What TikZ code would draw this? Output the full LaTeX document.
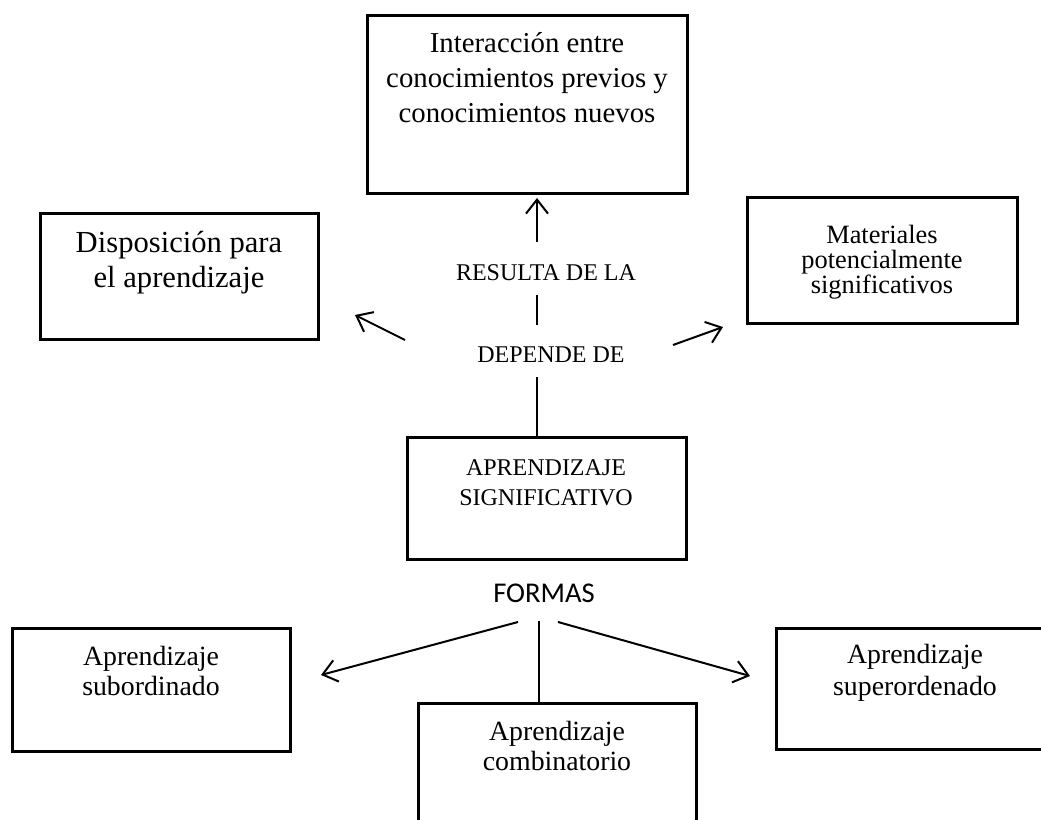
\documentclass[tikz,border=0pt]{standalone}
\usepackage{fontspec}
\setmainfont{Liberation Serif}
\newfontfamily\calibri{Carlito}
\usetikzlibrary{arrows.meta}

\begin{document}
\begin{tikzpicture}[x=0.5pt,y=-0.5pt,
	box/.style={draw,line width=1.5pt,anchor=north west,inner sep=0pt,outer sep=0pt},
	txt/.style={anchor=base,align=center,inner sep=0pt},
	lin/.style={line width=1pt},
	arr/.style={line width=1pt,-{Straight Barb[length=7pt,width=11pt]}}]
\clip (0,0) rectangle (1041,820);
% boxes
\node[box,minimum width=160pt,minimum height=89pt] (inter) at (367,15) {};
\node[box,minimum width=139pt,minimum height=63pt] (disp) at (40,213) {};
\node[box,minimum width=135pt,minimum height=63pt] (mat) at (747,197) {};
\node[box,minimum width=139.5pt,minimum height=61pt] (apr) at (407,437) {};
\node[box,minimum width=139pt,minimum height=61.5pt] (sub) at (12,628) {};
\node[box,minimum width=139pt,minimum height=70pt] (comb) at (418,703) {};
\node[box,minimum width=150pt,minimum height=60.5pt] (sup) at (776,628) {};
% texts (base = last line)
\node[txt,font=\fontsize{14.4}{17.5}\selectfont] (intert) at (527,122) {Interacción entre\\conocimientos previos y\\conocimientos nuevos};
\node[txt,font=\fontsize{15.3}{17.5}\selectfont] (dispt) at (179,287) {Disposición para\\el aprendizaje};
\node[txt,font=\fontsize{13.2}{12.5}\selectfont] (matt) at (882,293) {Materiales\\potencialmente\\significativos};
\node[txt,font=\fontsize{12}{15}\selectfont] (aprt) at (546,505) {APRENDIZAJE\\SIGNIFICATIVO};
\node[txt,font=\fontsize{13.9}{15}\selectfont] (subt) at (151,695) {Aprendizaje\\subordinado};
\node[txt,font=\fontsize{13.9}{15}\selectfont] (combt) at (557,770) {Aprendizaje\\combinatorio};
\node[txt,font=\fontsize{13.9}{16}\selectfont] (supt) at (915,695) {Aprendizaje\\superordenado};
\node[txt,font=\fontsize{12}{15}\selectfont] (resulta) at (546,280) {RESULTA DE LA};
\node[txt,font=\fontsize{12}{15}\selectfont] (depende) at (551,362) {DEPENDE DE};
\node[txt,font=\calibri\fontsize{14.3}{17}\selectfont] (formas) at (544,602) {FORMAS};
% connectors
\coordinate (up0) at (537,242);
\coordinate (d1) at (537,295);
\coordinate (d2) at (537,325);
\coordinate (la) at (405,340);
\coordinate (ra) at (673,345);
\coordinate (fl) at (518,622);
\coordinate (fm) at (539,621);
\coordinate (fr) at (558,622);
\draw[arr,shorten >=2.5pt] (up0) -- (up0 |- inter.south);
\draw[lin] (d1) -- (d2);
\draw[lin] (apr.north -| up0) -- ++(0,-60);
\draw[arr] (la) -- ++(-50,-25);
\draw[arr] (ra) -- ++(50,-18);
\draw[arr] (fl) -- ++(-197,53);
\draw[lin] (fm) -- (fm |- comb.north);
\draw[arr] (fr) -- ++(192,54);
\end{tikzpicture}
\end{document}
